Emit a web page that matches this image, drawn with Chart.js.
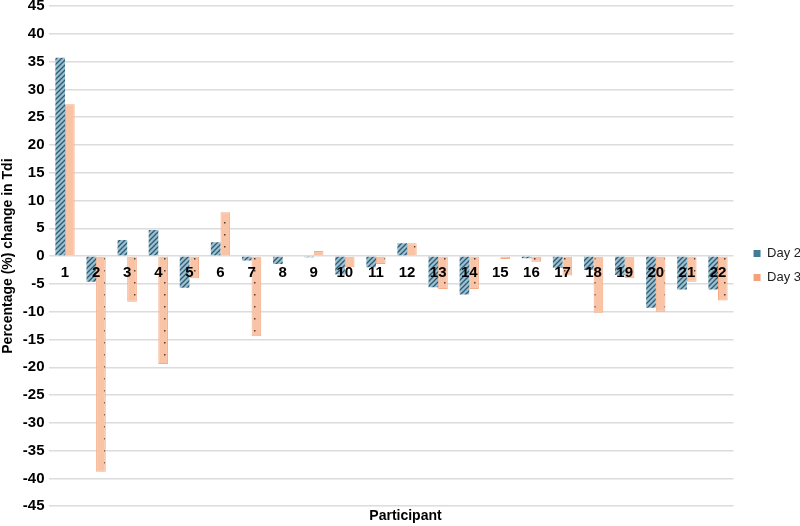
<!DOCTYPE html>
<html lang="en">

<head>
    <meta charset="UTF-8">
    <title>Percentage change in Tdi</title>
    <script src="https://cdn.jsdelivr.net/npm/chart.js"></script>
    <style>
        html, body {
            margin: 0;
            padding: 0;
            background: #ffffff;
        }

        #chart-container {
            width: 800px;
            height: 526px;
        }
    </style>
</head>

<body>
    <div id="chart-container">
        <canvas id="chart" width="800" height="526"></canvas>
    </div>

    <script>
        // participants 1..22
        const participants = ['1', '2', '3', '4', '5', '6', '7', '8', '9', '10', '11',
            '12', '13', '14', '15', '16', '17', '18', '19', '20', '21', '22'];

        // % change in Tdi
        const day2 = [35.7, -4.6, 2.9, 4.7, -5.7, 2.5, -0.8, -1.4, -0.2, -3.3, -2.0,
            2.3, -5.6, -6.9, -0.1, -0.4, -2.1, -2.5, -3.4, -9.3, -6.0, -6.0];
        const day3 = [27.3, -38.8, -8.2, -19.4, -4.0, 7.9, -14.4, -0.1, 0.9, -2.0, -1.4,
            2.3, -5.9, -5.9, -0.5, -1.0, -3.5, -10.2, -4.0, -10.0, -4.6, -8.0];

        // y axis ticks
        const yMin = -45;
        const yMax = 45;
        const yStep = 5;

        // hatch pattern for Day 2
        function makeHatch() {
            const c = document.createElement('canvas');
            c.width = 5;
            c.height = 5;
            const g = c.getContext('2d');
            g.fillStyle = '#9cc0d1';
            g.fillRect(0, 0, 5, 5);
            g.strokeStyle = '#2d5a70';
            g.lineWidth = 1.3;
            g.beginPath();
            g.moveTo(-1, 6);
            g.lineTo(6, -1);
            g.moveTo(-1, 1);
            g.lineTo(1, -1);
            g.moveTo(4, 6);
            g.lineTo(6, 4);
            g.stroke();
            return g.createPattern(c, 'repeat');
        }

        // dotted pattern for Day 3
        function makeDots() {
            const c = document.createElement('canvas');
            c.width = 10;
            c.height = 12;
            const g = c.getContext('2d');
            g.fillStyle = '#f9c3a6';
            g.fillRect(0, 0, 10, 12);
            g.fillStyle = '#5a3a2a';
            g.fillRect(4, 6, 1.5, 1.5);
            return g.createPattern(c, 'repeat');
        }

        const tickFont = { family: '"Liberation Sans", Arial, sans-serif', size: 15, weight: 'bold' };
        const titleFont = { family: '"Liberation Sans", Arial, sans-serif', size: 14, weight: 'bold' };

        const ctx = document.getElementById('chart').getContext('2d');

        const myChart = new Chart(ctx, {
            type: 'bar',
            data: {
                labels: participants,
                datasets: [{
                    label: 'Day 2',
                    data: day2,
                    backgroundColor: makeHatch(),
                    borderWidth: 0,
                    categoryPercentage: 0.62,
                    barPercentage: 1.0
                }, {
                    label: 'Day 3',
                    data: day3,
                    backgroundColor: makeDots(),
                    borderColor: '#f5ab86',
                    borderWidth: 1,
                    categoryPercentage: 0.62,
                    barPercentage: 1.0
                }]
            },
            options: {
                responsive: false,
                animation: false,
                layout: {
                    padding: { top: 6, right: -11, left: 0, bottom: 1 }
                },
                scales: {
                    x: {
                        position: { y: 0 },
                        grid: { display: false, drawTicks: false },
                        border: { display: false },
                        ticks: {
                            z: 1, // labels over the bars
                            color: '#000',
                            font: tickFont,
                            padding: 8,
                            maxRotation: 0,
                            autoSkip: false
                        }
                    },
                    y: {
                        min: yMin,
                        max: yMax,
                        border: { display: false },
                        grid: {
                            color: '#dcdcdc',
                            lineWidth: 1.5,
                            drawTicks: false
                        },
                        ticks: {
                            stepSize: yStep,
                            color: '#000',
                            font: tickFont,
                            padding: 5
                        },
                        title: {
                            display: true,
                            text: 'Percentage (%) change in Tdi',
                            color: '#000',
                            font: titleFont,
                            padding: { top: 0, bottom: 1 }
                        },
                        afterFit: function (s) {
                            s.paddingTop = 0;
                            s.paddingBottom = 0;
                        }
                    },
                    // empty axis, only keeps a gap before the legend
                    gap: {
                        position: 'right',
                        display: true,
                        grid: { display: false, drawTicks: false },
                        border: { display: false },
                        ticks: { display: false },
                        afterFit: function (s) {
                            s.width = 9;
                        }
                    }
                },
                plugins: {
                    title: {
                        display: true,
                        text: 'Participant',
                        position: 'bottom',
                        color: '#000',
                        font: titleFont,
                        padding: { top: 2, bottom: 0 }
                    },
                    legend: {
                        position: 'right',
                        labels: {
                            boxWidth: 7,
                            boxHeight: 7,
                            padding: 11,
                            color: '#222',
                            font: { family: '"Liberation Sans", Arial, sans-serif', size: 13 },
                            generateLabels: function (chart) {
                                const items = Chart.defaults.plugins.legend.labels.generateLabels(chart);
                                const solid = ['#3f7d97', '#f4a27a'];
                                items.forEach(function (it, i) {
                                    it.fillStyle = solid[i];
                                    it.strokeStyle = solid[i];
                                    it.lineWidth = 0;
                                });
                                return items;
                            }
                        }
                    },
                    tooltip: { enabled: false }
                }
            }
        });
    </script>
</body>

</html>
